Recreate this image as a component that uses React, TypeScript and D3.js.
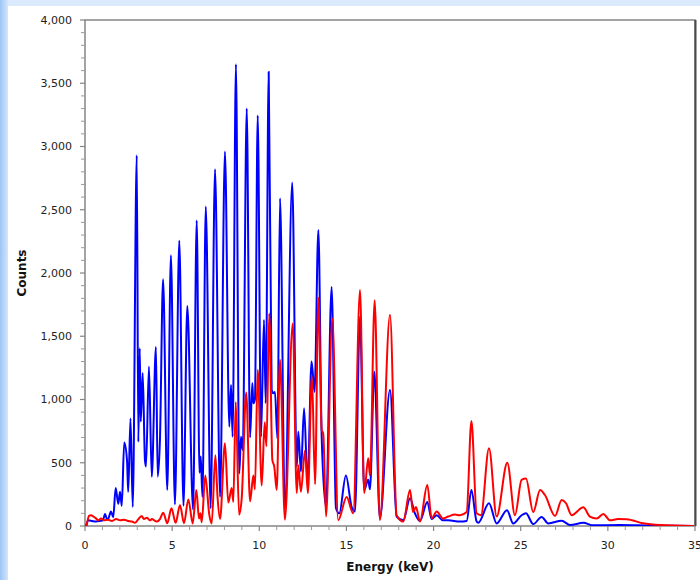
import React from "react";
import * as d3 from "d3";

// Spectrum traces: energy (keV) and counts, read as peak / valley points
const blueEnergy = [
  0.06, 0.2, 0.4, 0.63, 0.86, 1.03, 1.15, 1.26, 1.34, 1.49, 1.62, 1.76, 1.91, 2.01, 2.11, 2.25, 2.41, 2.48,
  2.61, 2.74, 2.97, 3.06, 3.14, 3.2, 3.31, 3.44, 3.5, 3.67, 3.83, 4.07, 4.17, 4.3, 4.48, 4.72, 4.93, 5.16,
  5.41, 5.65, 5.87, 6.2, 6.41, 6.57, 6.64, 6.74, 6.93, 7.21, 7.46, 7.75, 8.03, 8.28, 8.38, 8.47, 8.66, 8.85,
  8.95, 9.05, 9.28, 9.47, 9.6, 9.66, 9.75, 9.91, 10.1, 10.27, 10.37, 10.54, 10.71, 10.8, 10.9, 11.04, 11.19,
  11.47, 11.89, 12.15, 12.24, 12.39, 12.57, 12.77, 13.0, 13.17, 13.39, 13.58, 13.83, 14.15, 14.4, 14.59,
  14.97, 15.3, 15.49, 15.78, 16.02, 16.25, 16.35, 16.6, 16.92, 17.5, 17.88, 18.26, 18.65, 18.93, 19.22,
  19.64, 19.89, 20.18, 20.54, 20.84, 21.51, 21.9, 22.17, 22.47, 22.56, 23.18, 23.62, 24.21, 24.57, 25.05,
  25.3, 25.72, 26.2, 26.58, 27.35, 27.83, 28.59, 29.16, 30.69, 32.41, 34.94,
];
const blueCounts = [
  0, 45, 40, 35, 40, 45, 95, 55, 60, 115, 70, 300, 175, 270, 160, 660, 520, 270,
  850, 150, 2930, 665, 1405, 825, 1210, 520, 470, 1260, 390, 1415, 390, 680, 1950, 285, 2140, 170,
  2255, 160, 1740, 130, 2415, 420, 550, 230, 2525, 140, 2820, 230, 2960, 785, 1115, 705, 3650, 415,
  705, 600, 3300, 700, 1130, 970, 1000, 3245, 705, 1630, 970, 3590, 1075, 1050, 1060, 690, 2590,
  130, 2715, 470, 745, 430, 930, 340, 1300, 1060, 2340, 705, 150, 1890, 140, 100,
  400, 150, 115, 1655, 285, 365, 290, 1220, 60, 1075, 75, 45, 220, 100, 40,
  190, 55, 85, 45, 45, 35, 40, 285, 35, 25, 180, 20, 125, 20, 85,
  100, 15, 72, 20, 42, 8, 25, 5, 8, 3, 0,
];

const redEnergy = [
  0.09, 0.23, 0.34, 0.48, 0.63, 0.76, 0.92, 1.09, 1.32, 1.55, 1.78, 2.01, 2.24, 2.47, 2.7, 2.87, 3.04, 3.25,
  3.38, 3.56, 3.73, 3.84, 4.02, 4.13, 4.3, 4.49, 4.72, 4.96, 5.2, 5.45, 5.68, 5.93, 6.18, 6.39, 6.54, 6.62,
  6.7, 6.9, 7.13, 7.27, 7.48, 7.6, 7.75, 8.03, 8.22, 8.42, 8.51, 8.65, 8.84, 8.99, 9.25, 9.47, 9.66, 9.75,
  9.91, 10.14, 10.31, 10.41, 10.57, 10.75, 10.86, 11.0, 11.19, 11.47, 11.92, 12.15, 12.24, 12.39, 12.62,
  12.79, 13.02, 13.2, 13.39, 13.58, 13.67, 13.83, 14.19, 14.53, 15.01, 15.39, 15.78, 16.02, 16.25, 16.35,
  16.62, 16.92, 17.5, 17.88, 18.26, 18.65, 18.82, 18.99, 19.22, 19.64, 19.89, 20.18, 20.54, 20.84, 21.23,
  21.51, 21.9, 22.17, 22.47, 22.72, 23.18, 23.62, 24.23, 24.67, 25.05, 25.3, 25.72, 26.11, 26.39, 26.97,
  27.35, 27.6, 27.92, 28.59, 28.97, 29.36, 29.74, 30.12, 30.58, 31.08, 32.01, 32.99, 34.94,
];
const redCounts = [
  0, 80, 85, 75, 60, 45, 60, 45, 50, 40, 55, 45, 50, 40, 35, 25, 50, 80,
  55, 65, 45, 55, 40, 35, 55, 105, 22, 140, 25, 165, 22, 210, 20, 285, 60, 100,
  30, 400, 90, 20, 560, 240, 55, 655, 185, 300, 190, 980, 90, 215, 1055, 195, 400, 290,
  1235, 320, 820, 630, 1680, 520, 470, 285, 1315, 50, 1600, 260, 480, 270, 595,
  260, 1185, 330, 1805, 760, 730, 75, 1640, 45, 230, 100, 1865, 260, 535, 400,
  1785, 45, 1670, 85, 35, 285, 110, 150, 35, 325, 60, 115, 60, 75, 90,
  85, 110, 830, 100, 85, 615, 75, 500, 85, 365, 375, 110, 285, 245, 80,
  205, 180, 85, 148, 75, 60, 95, 45, 55, 53, 22, 8, 0,
];

const xTicks = [0, 5, 10, 15, 20, 25, 30, 35];
const yTicks = [0, 500, 1000, 1500, 2000, 2500, 3000, 3500, 4000];

const W = 700;
const H = 580;
const plot = { left: 85, top: 20, right: 695, bottom: 526 };
const font = "'DejaVu Sans', Verdana, sans-serif";

export default function App() {
  const x = d3.scaleLinear().domain([0, 35]).range([plot.left, plot.right]);
  const y = d3.scaleLinear().domain([0, 4000]).range([plot.bottom, plot.top]);
  const fmt = d3.format(",");

  const line = d3
    .line<number>()
    .x((_, i) => 0)
    .curve(d3.curveMonotoneX);

  const makePath = (es: number[], cs: number[]) =>
    d3
      .line<[number, number]>()
      .x((d) => x(d[0]))
      .y((d) => y(d[1]))
      .curve(d3.curveMonotoneX)(es.map((e, i) => [e, cs[i]] as [number, number])) || "";

  void line;

  const minorY = d3.range(0, 4001, 100).filter((v) => v % 500 !== 0);
  const minorX = d3.range(0, 36, 1).filter((v) => v % 5 !== 0);

  return (
    <div style={{ position: "absolute", left: 0, top: 0 }}>
      <svg width={W} height={H} style={{ display: "block" }}>
        <defs>
          <linearGradient id="edge" x1="0" x2="1" y1="0" y2="0">
            <stop offset="0" stopColor="#9cc5f5" />
            <stop offset="1" stopColor="#d4e6fb" />
          </linearGradient>
          <clipPath id="plotClip">
            <rect x={plot.left} y={plot.top} width={plot.right - plot.left} height={plot.bottom - plot.top} />
          </clipPath>
        </defs>
        <rect x={0} y={0} width={W} height={H} fill="#ffffff" />
        <rect x={0} y={0} width={W} height={6} fill="#dbeafc" />
        <rect x={0} y={0} width={8} height={H} fill="url(#edge)" />

        {/* plot frame */}
        <rect
          x={plot.left}
          y={plot.top}
          width={plot.right - plot.left}
          height={plot.bottom - plot.top}
          fill="#ffffff"
          stroke="#858585"
          strokeWidth={1.5}
        />
        <line x1={plot.right + 0.5} x2={plot.right + 0.5} y1={plot.top} y2={plot.bottom} stroke="#4a4a4a" strokeWidth={2} />

        {/* y ticks */}
        {yTicks.map((t) => (
          <g key={"y" + t}>
            <line x1={plot.left - 5} x2={plot.left} y1={y(t)} y2={y(t)} stroke="#858585" strokeWidth={1.2} />
            <text
              x={72}
              y={y(t)}
              dy="0.35em"
              textAnchor="end"
              fontFamily={font}
              fontSize={11}
              fill="#222"
            >
              {fmt(t)}
            </text>
          </g>
        ))}
        {minorY.map((t) => (
          <line key={"my" + t} x1={plot.left - 4} x2={plot.left} y1={y(t)} y2={y(t)} stroke="#9a9a9a" strokeWidth={1} />
        ))}

        {/* x ticks */}
        {xTicks.map((t) => (
          <g key={"x" + t}>
            <line x1={x(t)} x2={x(t)} y1={plot.bottom} y2={plot.bottom + 5} stroke="#858585" strokeWidth={1.2} />
            <text x={x(t)} y={549} textAnchor="middle" fontFamily={font} fontSize={11} fill="#222">
              {t}
            </text>
          </g>
        ))}
        {minorX.map((t) => (
          <line key={"mx" + t} x1={x(t)} x2={x(t)} y1={plot.bottom} y2={plot.bottom + 4} stroke="#9a9a9a" strokeWidth={1} />
        ))}

        {/* spectra */}
        <g clipPath="url(#plotClip)" fill="none" strokeWidth={2} strokeLinejoin="round">
          <path d={makePath(blueEnergy, blueCounts)} stroke="#0000ff" />
          <path d={makePath(redEnergy, redCounts)} stroke="#ff0000" />
        </g>

        {/* axis titles */}
        <text
          x={390}
          y={571}
          textAnchor="middle"
          fontFamily={font}
          fontSize={12}
          fontWeight="bold"
          fill="#111"
        >
          Energy (keV)
        </text>
        <text
          transform={`translate(26, ${(plot.top + plot.bottom) / 2}) rotate(-90)`}
          textAnchor="middle"
          fontFamily={font}
          fontSize={12}
          fontWeight="bold"
          fill="#111"
        >
          Counts
        </text>
      </svg>
    </div>
  );
}
